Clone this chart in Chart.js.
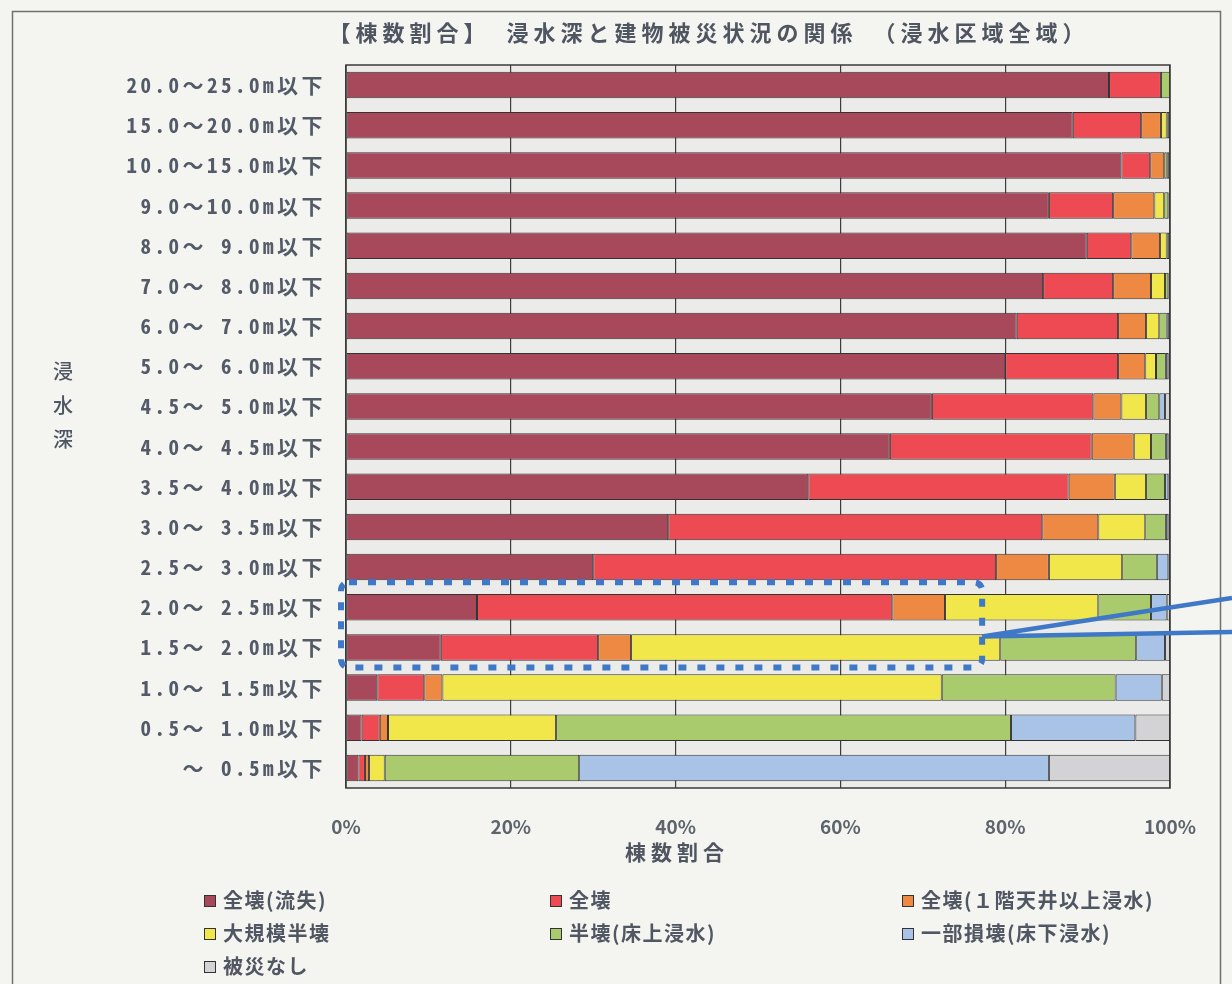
<!DOCTYPE html>
<html lang="ja">
<head>
<meta charset="utf-8">
<title>浸水深と建物被災状況の関係</title>
<script src="https://cdn.jsdelivr.net/npm/chart.js@4.4.1/dist/chart.umd.min.js"></script>
<style>
  body { margin: 0; background: #f4f4f1; }
  #wrap { position: relative; width: 1232px; height: 984px; overflow: hidden; }
  #legend {
    position: absolute; left: 204px; top: 883px;
    display: grid; grid-template-columns: 346px 352px 320px;
    font-family: "Noto Sans CJK JP", sans-serif;
    font-size: 20px; font-weight: 700; color: #505762; letter-spacing: 1.5px;
  }
  #legend div { height: 33px; line-height: 33px; white-space: nowrap; }
  #legend span {
    display: inline-block; width: 10px; height: 10px; margin-right: 7px;
    border: 1px solid #333; vertical-align: 1px;
  }
</style>
</head>
<body>
<div id="wrap">
  <canvas id="chart" width="1232" height="984"></canvas>
  <div id="legend"></div>
</div>
<script>
// depth classes, top to bottom
const depthLabels = [
  '20.0～25.0m以下', '15.0～20.0m以下', '10.0～15.0m以下', '9.0～10.0m以下',
  '8.0～ 9.0m以下', '7.0～ 8.0m以下', '6.0～ 7.0m以下', '5.0～ 6.0m以下',
  '4.5～ 5.0m以下', '4.0～ 4.5m以下', '3.5～ 4.0m以下', '3.0～ 3.5m以下',
  '2.5～ 3.0m以下', '2.0～ 2.5m以下', '1.5～ 2.0m以下', '1.0～ 1.5m以下',
  '0.5～ 1.0m以下', '～ 0.5m以下'
];

// share of buildings (%) per damage class, same order as depthLabels
const washedAway  = [92.6, 88.2, 94.1, 85.3, 89.9, 84.6, 81.4, 80.0, 71.1, 66.0, 56.1, 39.1, 30.0, 15.9, 11.5, 3.8, 1.9, 1.5];
const destroyed   = [6.3, 8.3, 3.5, 7.8, 5.4, 8.5, 12.3, 13.7, 19.6, 24.5, 31.6, 45.4, 48.9, 50.4, 19.1, 5.7, 2.2, 0.8];
const ceilingFlood = [0, 2.4, 1.7, 5.0, 3.5, 4.6, 3.4, 3.3, 3.4, 5.1, 5.6, 6.8, 6.4, 6.4, 4.0, 2.2, 1.0, 0.5];
const largeHalf   = [0, 0.7, 0.3, 1.2, 0.8, 1.7, 1.6, 1.3, 3.0, 2.1, 3.8, 5.7, 8.9, 18.6, 44.8, 60.6, 20.4, 1.9];
const halfDamage  = [1.1, 0.3, 0.3, 0.5, 0.3, 0.4, 0.9, 1.2, 1.6, 1.8, 2.3, 2.5, 4.2, 6.4, 16.5, 21.1, 55.2, 23.6];
const partial     = [0, 0.1, 0.1, 0.2, 0.1, 0.2, 0.3, 0.3, 0.7, 0.3, 0.4, 0.3, 1.4, 1.9, 3.5, 5.6, 15.1, 57.0];
const noDamage    = [0, 0, 0, 0, 0, 0, 0.1, 0.2, 0.6, 0.2, 0.2, 0.2, 0.2, 0.4, 0.6, 1.0, 4.2, 14.7];

const seriesNames = ['全壊(流失)', '全壊', '全壊(１階天井以上浸水)', '大規模半壊', '半壊(床上浸水)', '一部損壊(床下浸水)', '被災なし'];
const seriesData = [washedAway, destroyed, ceilingFlood, largeHalf, halfDamage, partial, noDamage];
const seriesColors = ['#a8495b', '#ee4a54', '#ee8944', '#f2e74a', '#a9cb6d', '#a8c3e5', '#d3d3d5'];

const xTicks = [0, 20, 40, 60, 80, 100];

const FONT = '"Noto Sans CJK JP", sans-serif';
const MONO = '"Noto Sans Mono CJK JP", "Noto Sans CJK JP", sans-serif';

// extra drawing: plot background, frame, titles, highlight box
const decorPlugin = {
  id: 'decor',
  beforeDraw(chart) {
    const ctx = chart.ctx;
    const a = chart.chartArea;
    ctx.save();
    ctx.fillStyle = '#ebebea';
    ctx.fillRect(a.left, a.top, a.right - a.left, a.bottom - a.top);
    // page frame
    ctx.strokeStyle = '#6f6f6f';
    ctx.lineWidth = 1.5;
    ctx.strokeRect(12.5, 11.5, 1208, 990);
    ctx.restore();
  },
  beforeDatasetsDraw(chart) {
    // y labels are drawn after the bars (ticks.z = 1), so this spacing only hits them
    chart.ctx.letterSpacing = '3.5px';
  },
  afterDraw(chart) {
    const ctx = chart.ctx;
    const a = chart.chartArea;
    const x = chart.scales.x;
    const y = chart.scales.y;
    ctx.letterSpacing = '0px';
    ctx.save();
    // plot border
    ctx.strokeStyle = '#3a3a3a';
    ctx.lineWidth = 1.5;
    ctx.strokeRect(a.left, a.top, a.right - a.left, a.bottom - a.top);

    // main title
    ctx.fillStyle = '#4f5661';
    ctx.font = '700 22px ' + FONT;
    ctx.letterSpacing = '5px';
    ctx.textAlign = 'center';
    ctx.textBaseline = 'middle';
    ctx.fillText('【棟数割合】　浸水深と建物被災状況の関係　（浸水区域全域）', 709, 33);

    // x axis title
    ctx.font = '700 21px ' + FONT;
    ctx.letterSpacing = '5px';
    ctx.fillText('棟数割合', 677, 852);

    // y axis title, stacked characters
    ctx.letterSpacing = '0px';
    ctx.font = '500 20px ' + FONT;
    ['浸', '水', '深'].forEach(function (ch, i) {
      ctx.fillText(ch, 63, 371 + i * 34);
    });

    // highlight box around 1.5～2.5m rows
    const bx0 = x.getPixelForValue(0) - 5;
    const bx1 = x.getPixelForValue(77.2);
    const by0 = y.getPixelForValue(13) - 25;
    const by1 = y.getPixelForValue(14) + 20;
    ctx.strokeStyle = '#3f78c6';
    ctx.lineWidth = 6;
    ctx.setLineDash([8, 11]);
    ctx.beginPath();
    ctx.roundRect(bx0, by0, bx1 - bx0, by1 - by0, 8);
    ctx.stroke();
    ctx.setLineDash([]);
    ctx.lineWidth = 4.5;
    const my = y.getPixelForValue(14) - 11;
    ctx.beginPath();
    ctx.moveTo(bx1, my);
    ctx.lineTo(1232, 598);
    ctx.moveTo(bx1, my);
    ctx.lineTo(1232, 632);
    ctx.stroke();
    ctx.restore();
  }
};

const datasets = seriesNames.map(function (name, i) {
  return {
    label: name,
    data: seriesData[i],
    backgroundColor: seriesColors[i],
    borderColor: '#333333',
    borderWidth: 1,
    borderSkipped: false,
    barPercentage: 1,
    categoryPercentage: 0.66
  };
});

new Chart(document.getElementById('chart'), {
  type: 'bar',
  data: { labels: depthLabels, datasets: datasets },
  options: {
    indexAxis: 'y',
    responsive: false,
    animation: false,
    layout: { padding: { left: 0, right: 62, top: 65, bottom: 0 } },
    plugins: {
      legend: { display: false },
      title: { display: false },
      tooltip: { enabled: false }
    },
    scales: {
      x: {
        stacked: true,
        min: 0,
        max: 100,
        afterBuildTicks: function (scale) {
          scale.ticks = xTicks.map(function (v) { return { value: v }; });
        },
        afterFit: function (scale) { scale.height = 196; },
        grid: { color: '#3d3d3d', lineWidth: 1.2, drawTicks: false },
        border: { display: false },
        ticks: {
          padding: 27,
          color: '#5e646c',
          font: { family: FONT, size: 19, weight: '700' },
          callback: function (v) { return v + '%'; }
        }
      },
      y: {
        stacked: true,
        afterFit: function (scale) { scale.width = 346; },
        grid: { display: false, drawTicks: false },
        border: { display: false },
        ticks: {
          z: 1,
          padding: 20,
          color: '#535b68',
          font: { family: MONO, size: 21, weight: '700' }
        }
      }
    }
  },
  plugins: [decorPlugin]
});

// legend in three columns, built from the series arrays
const legendBox = document.getElementById('legend');
seriesNames.forEach(function (name, i) {
  const item = document.createElement('div');
  const swatch = document.createElement('span');
  swatch.style.background = seriesColors[i];
  item.appendChild(swatch);
  item.appendChild(document.createTextNode(name));
  legendBox.appendChild(item);
});
</script>
</body>
</html>
